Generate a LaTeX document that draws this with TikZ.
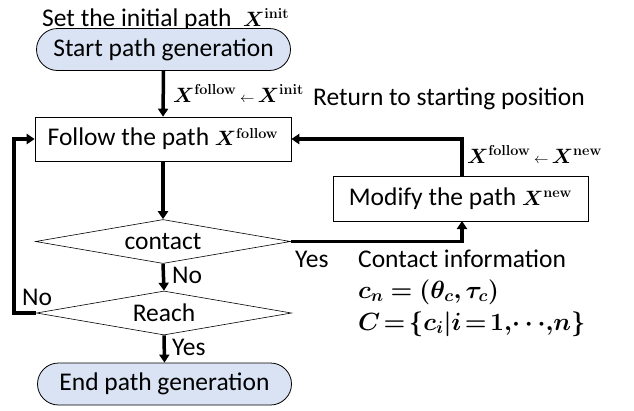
\documentclass[tikz,border=0pt]{standalone}
\usepackage{amsmath,bm}
\usepackage[no-math]{fontspec}
\setmainfont{Carlito}
\usetikzlibrary{arrows.meta,shapes.geometric}
\definecolor{termfill}{HTML}{DAE3F3}
\newcommand{\mym}[1]{{\fontsize{22}{26}\selectfont$#1$}}
\newcommand{\mymb}[1]{{\fontsize{23}{27}\selectfont$#1$}}
\newcommand{\larr}{\mkern3mu{\scriptstyle\leftarrow}\mkern3mu}
\begin{document}
\begin{tikzpicture}[x=1pt,y=-1pt,
  every node/.style={font=\fontsize{25.5}{30}\selectfont},
  term/.style={draw=black,line width=0.8pt,fill=termfill,rounded corners=21pt,minimum width=254pt,minimum height=42pt,inner sep=0pt},
  proc/.style={draw=black,line width=0.6pt,fill=white,minimum width=256pt,minimum height=44pt,inner sep=0pt},
  decis/.style={draw=black,line width=0.6pt,diamond,aspect=6,minimum width=255pt,minimum height=44pt,inner sep=0pt},
  conn/.style={line width=3.5pt,-{Triangle[length=8pt,width=10pt]}},
  lbl/.style={inner sep=0pt,anchor=base west}]
\useasboundingbox (0,0) rectangle (634,410);
\node[lbl] (settxt) at (42,26) {Set the initial path \ \mym{\bm{X}^{\mathbf{init}}}};
\node[term] (start) at (163.5,49.5) {Start path generation};
\node[proc] (follow) at (163,139) {Follow the path \mym{\bm{X}^{\mathbf{follow}}}};
\node[decis] (contact) at (163,241.5) {contact};
\node[decis] (reach) at (164,313) {Reach};
\node[term] (end) at (164.5,384) {End path generation};
\node[proc,minimum width=255pt,minimum height=45pt] (modify) at (460.5,198.5) {Modify the path \mym{\bm{X}^{\mathbf{new}}}};
\coordinate (lc1) at (14,313);
\coordinate (lc2) at (14,139);
\coordinate (rc1) at (462,241.5);
\coordinate (rc2) at (462,139);
\coordinate (mb) at (462,221);
\coordinate (mt) at (462,176);
\draw[conn] (start.south) -- (follow.north);
\draw[conn] (follow.south) -- (contact.north);
\draw[conn] (contact.south) -- (reach.north);
\draw[conn] (reach.south) -- (end.north);
\draw[conn] (reach.west) -- (lc1) -- (lc2) -- (follow.west);
\draw[conn] (contact.east) -- (rc1) -- (mb);
\draw[conn] (mt) -- (rc2) -- (follow.east);
\node[lbl] (l1) at (173,102) {\mym{\bm{X}^{\mathbf{follow}}\larr\bm{X}^{\mathbf{init}}}};
\node[lbl] (l2) at (172,283) {No};
\node[lbl] (l3) at (172,355) {Yes};
\node[lbl] (l4) at (22,305) {No};
\node[lbl] (l5) at (295,267) {Yes};
\node[lbl] (l6) at (313,105) {Return to starting position};
\node[lbl] (l7) at (467,163) {\mym{\bm{X}^{\mathbf{follow}}\larr\bm{X}^{\mathbf{new}}}};
\node[lbl] (l8) at (358,267) {Contact information};
\node[lbl] (l9) at (358,298) {\mymb{\bm{c_n=(\theta_c,\tau_c)}}};
\node[lbl] (l10) at (358,330) {\mymb{\thickmuskip=2.5mu\bm{C=\{c_i|i=1{,}{\cdots}{,}n\}}}};
\end{tikzpicture}
\end{document}
